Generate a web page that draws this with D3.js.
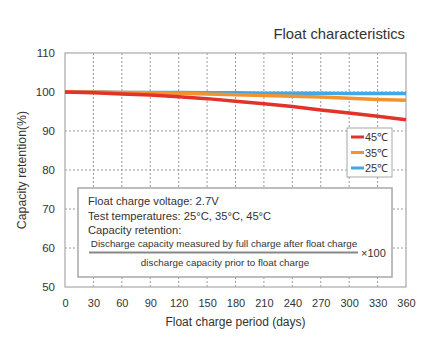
<!DOCTYPE html>
<html>
<head>
<meta charset="utf-8">
<script src="https://cdn.jsdelivr.net/npm/d3@7"></script>
<style>
  body { margin: 0; background: #fff; }
  text { font-family: Arial, "Liberation Sans", sans-serif; fill: #333; }
</style>
</head>
<body>
<div id="chart"></div>
<script>
// data
var days = [0, 30, 60, 90, 120, 150, 180, 210, 240, 270, 300, 330, 360];
var ret45 = [100, 99.8, 99.5, 99.2, 98.8, 98.3, 97.6, 97.0, 96.3, 95.4, 94.6, 93.8, 92.9];
var ret35 = [100, 100, 99.9, 99.8, 99.7, 99.5, 99.3, 99.1, 98.9, 98.7, 98.4, 98.1, 97.9];
var ret25 = [100, 100, 99.9, 99.9, 99.9, 99.8, 99.8, 99.7, 99.7, 99.7, 99.6, 99.6, 99.6];
var seriesNames = ["45\u2103", "35\u2103", "25\u2103"];
var colors = ["#e2332b", "#f29330", "#43a7e4"];
var xTicks = d3.range(0, 361, 30);
var yTicks = [50, 60, 70, 80, 90, 100, 110];

var W = 445, H = 346;
var margin = { top: 53, right: 39, bottom: 59, left: 65 };
var w = W - margin.left - margin.right;
var h = H - margin.top - margin.bottom;

var svg = d3.select("#chart").append("svg")
    .attr("width", W)
    .attr("height", H);

var g = svg.append("g")
    .attr("transform", "translate(" + margin.left + "," + margin.top + ")");

var x = d3.scaleLinear().domain([0, 360]).range([0, w]);
var y = d3.scaleLinear().domain([50, 110]).range([h, 0]);

// grid
g.selectAll(".vgrid").data(xTicks.slice(1, -1)).enter().append("line")
    .attr("x1", function(d){ return x(d); })
    .attr("x2", function(d){ return x(d); })
    .attr("y1", 0).attr("y2", h)
    .attr("stroke", "#9a9a9a").attr("stroke-width", 1)
    .attr("stroke-dasharray", "2,2");

g.selectAll(".hgrid").data(yTicks.slice(1, -1)).enter().append("line")
    .attr("x1", 0).attr("x2", w)
    .attr("y1", function(d){ return y(d); })
    .attr("y2", function(d){ return y(d); })
    .attr("stroke", "#9a9a9a").attr("stroke-width", 1)
    .attr("stroke-dasharray", "2,2");

// frame
g.append("rect")
    .attr("width", w).attr("height", h)
    .attr("fill", "none").attr("stroke", "#a8a8a8").attr("stroke-width", 1.2);

// axes tick labels
var xAxis = d3.axisBottom(x).tickValues(xTicks).tickSize(0).tickPadding(12);
g.append("g").attr("transform", "translate(0," + h + ")").call(xAxis)
    .call(function(s){ s.select(".domain").remove(); })
    .selectAll("text").style("font-size", "11px").attr("fill", "#333");

var yAxis = d3.axisLeft(y).tickValues(yTicks).tickSize(0).tickPadding(10);
g.append("g").call(yAxis)
    .call(function(s){ s.select(".domain").remove(); })
    .selectAll("text").style("font-size", "11.5px").attr("fill", "#333");

// lines
var series = [ret45, ret35, ret25];
var line = d3.line()
    .x(function(d, i){ return x(days[i]); })
    .y(function(d){ return y(d); });

[2, 1, 0].forEach(function(k){
    g.append("path")
        .datum(series[k])
        .attr("d", line)
        .attr("fill", "none")
        .attr("stroke", colors[k])
        .attr("stroke-width", 3.5);
});

// legend
var leg = g.append("g").attr("transform", "translate(" + (347 - margin.left) + "," + (128 - margin.top) + ")");
leg.append("rect").attr("width", 45).attr("height", 49)
    .attr("fill", "#fff").attr("stroke", "#a8a8a8").attr("stroke-width", 1);
seriesNames.forEach(function(n, i){
    var yy = 9 + i * 15.5;
    leg.append("line").attr("x1", 4).attr("x2", 17).attr("y1", yy).attr("y2", yy)
        .attr("stroke", colors[i]).attr("stroke-width", 3);
    leg.append("text").attr("x", 18).attr("y", yy + 4)
        .style("font-size", "11px").text(n);
});

// note box
var nb = g.append("g").attr("transform", "translate(" + (78 - margin.left) + "," + (188 - margin.top) + ")");
nb.append("rect").attr("width", 314).attr("height", 89)
    .attr("fill", "#fff").attr("stroke", "#a8a8a8").attr("stroke-width", 1.5);
var noteLines = ["Float charge voltage: 2.7V", "Test temperatures: 25\u00b0C, 35\u00b0C, 45\u00b0C", "Capacity retention:"];
noteLines.forEach(function(t, i){
    nb.append("text").attr("x", 10).attr("y", 17 + i * 14.5)
        .style("font-size", "11.2px").text(t);
});
nb.append("text").attr("x", 146).attr("y", 59).attr("text-anchor", "middle")
    .style("font-size", "9.8px").text("Discharge capacity measured by full charge after float charge");
nb.append("line").attr("x1", 11).attr("x2", 280).attr("y1", 64.5).attr("y2", 64.5)
    .attr("stroke", "#888").attr("stroke-width", 1.8);
nb.append("text").attr("x", 283).attr("y", 69)
    .style("font-size", "11px").text("\u00d7100");
nb.append("text").attr("x", 147).attr("y", 78).attr("text-anchor", "middle")
    .style("font-size", "9.8px").text("discharge capacity prior to float charge");

// titles
svg.append("text").attr("x", 405).attr("y", 39).attr("text-anchor", "end")
    .style("font-size", "14.8px").text("Float characteristics");

svg.append("text").attr("x", margin.left + w / 2).attr("y", 326).attr("text-anchor", "middle")
    .style("font-size", "12px").text("Float charge period (days)");

svg.append("text")
    .attr("transform", "translate(26," + (margin.top + h / 2) + ") rotate(-90)")
    .attr("text-anchor", "middle")
    .style("font-size", "12.3px").text("Capacity retention(%)");
</script>
</body>
</html>
